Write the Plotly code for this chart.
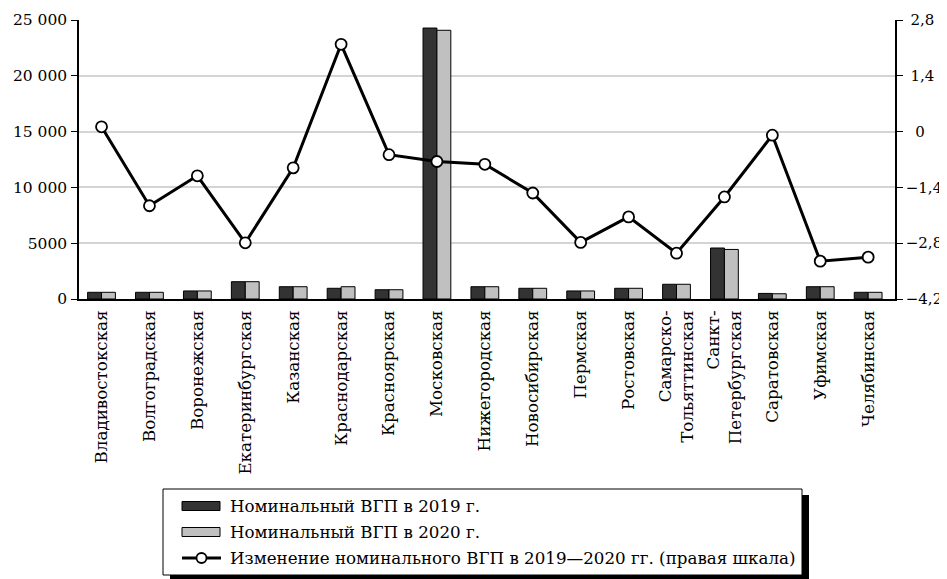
import plotly.graph_objects as go

regions = ["Владивостокская", "Волгоградская", "Воронежская", "Екатеринбургская",
           "Казанская", "Краснодарская", "Красноярская", "Московская",
           "Нижегородская", "Новосибирская", "Пермская", "Ростовская",
           "Самарско-<br>Тольяттинская", "Санкт-<br>Петербургская", "Саратовская",
           "Уфимская", "Челябинская"]
gdp_2019 = [600, 600, 720, 1550, 1100, 960, 830, 24280, 1100, 960, 720, 960,
            1320, 4570, 500, 1100, 600]
gdp_2020 = [600, 600, 720, 1550, 1100, 1100, 830, 24080, 1100, 960, 720, 960,
            1320, 4440, 470, 1100, 600]
change = [0.12, -1.86, -1.11, -2.79, -0.91, 2.19, -0.58, -0.75, -0.82, -1.54,
          -2.78, -2.14, -3.05, -1.64, -0.09, -3.25, -3.15]

left_tickvals = [0, 5000, 10000, 15000, 20000, 25000]
left_ticktext = ["0", "5000", "10 000", "15 000", "20 000", "25 000"]
right_tickvals = [-4.2, -2.8, -1.4, 0, 1.4, 2.8]
right_ticktext = ["−4,2", "−2,8", "−1,4", "\u00a0\u00a00", "\u00a01,4", "\u00a02,8"]

legend_labels = ["Номинальный ВГП в 2019 г.", "Номинальный ВГП в 2020 г.",
                 "Изменение номинального ВГП в 2019—2020 гг. (правая шкала)"]

FONT = "DejaVu Serif"
DARK = "#333333"
LIGHT = "#c0c0c0"

x = list(range(len(regions)))

fig = go.Figure()
fig.add_trace(go.Bar(x=x, y=gdp_2019, name=legend_labels[0], marker_color=DARK,
                     marker_line=dict(color="black", width=1), showlegend=False))
fig.add_trace(go.Bar(x=x, y=gdp_2020, name=legend_labels[1], marker_color=LIGHT,
                     marker_line=dict(color="black", width=1), showlegend=False))
fig.add_trace(go.Scatter(x=x, y=change, yaxis="y2", name=legend_labels[2],
                         mode="lines+markers", line=dict(color="black", width=3),
                         marker=dict(size=11, color="white",
                                     line=dict(color="black", width=1.8)),
                         showlegend=False))

# page body margin offset
OFF = 8
W, H = 947 - OFF, 579 - OFF
# target screen positions of plot area
SX0, SX1, SY0, SY1 = 79, 895, 20, 299
L = SX0 - OFF
T = SY0 - OFF
pw = SX1 - SX0
ph = SY1 - SY0
R = W - L - pw
B = H - T - ph


def px(sx):
    return (sx - SX0) / pw


def py(sy):
    return (SY1 - sy) / ph


shapes = []
annotations = []
# legend shadow and box
shapes.append(dict(type="rect", xref="paper", yref="paper", x0=px(170), x1=px(809),
                   y0=py(495), y1=py(580), fillcolor="black", line=dict(width=0),
                   layer="above"))
shapes.append(dict(type="rect", xref="paper", yref="paper", x0=px(163), x1=px(802),
                   y0=py(489), y1=py(575), fillcolor="white",
                   line=dict(color="black", width=1), layer="above"))
rows = [506, 532, 558]
shapes.append(dict(type="rect", xref="paper", yref="paper", x0=px(182), x1=px(220),
                   y0=py(rows[0] - 4.5), y1=py(rows[0] + 4.5), fillcolor=DARK,
                   line=dict(color="black", width=1), layer="above"))
shapes.append(dict(type="rect", xref="paper", yref="paper", x0=px(182), x1=px(220),
                   y0=py(rows[1] - 4.5), y1=py(rows[1] + 4.5), fillcolor=LIGHT,
                   line=dict(color="black", width=1), layer="above"))
shapes.append(dict(type="line", xref="paper", yref="paper", x0=px(182), x1=px(221),
                   y0=py(rows[2]), y1=py(rows[2]), line=dict(color="black", width=3),
                   layer="above"))
shapes.append(dict(type="circle", xref="paper", yref="paper", x0=px(196.5), x1=px(206.5),
                   y0=py(rows[2] - 5), y1=py(rows[2] + 5), fillcolor="white",
                   line=dict(color="black", width=1.8), layer="above"))
for r, lab in zip(rows, legend_labels):
    annotations.append(dict(xref="paper", yref="paper", x=px(228), y=py(r),
                            xanchor="left", yanchor="middle", text=lab,
                            showarrow=False, font=dict(family=FONT, size=16.7, color="black")))

fig.update_layout(
    width=W, height=H, autosize=False,
    margin=dict(l=L, r=R, t=T, b=B, pad=0, autoexpand=False),
    paper_bgcolor="white", plot_bgcolor="white",
    barmode="group", bargap=0.42, bargroupgap=0,
    font=dict(family=FONT, size=16, color="black"),
    xaxis=dict(tickmode="array", tickvals=x, ticktext=regions, tickangle=-90,
               range=[-0.47, 16.56], showline=True, linecolor="black", linewidth=1.5,
               ticks="", showgrid=False, zeroline=False, ticklabelstandoff=3,
               automargin=False, tickfont=dict(family=FONT, size=16.7)),
    yaxis=dict(range=[0, 25000], tickmode="array", tickvals=left_tickvals,
               ticktext=left_ticktext, showline=True, linecolor="black", linewidth=1.5,
               ticks="outside", ticklen=6, tickcolor="black", showgrid=True,
               gridcolor="#d4d4d4", gridwidth=1.5, zeroline=False, ticklabelstandoff=1,
               automargin=False, tickfont=dict(family=FONT, size=15.5)),
    yaxis2=dict(range=[-4.2, 2.8], overlaying="y", side="right", tickmode="array",
                tickvals=right_tickvals, ticktext=right_ticktext, showline=True,
                linecolor="black", linewidth=1.5, ticks="outside", ticklen=6,
                tickcolor="black", showgrid=False, zeroline=False, ticklabelstandoff=0,
                automargin=False, tickfont=dict(family=FONT, size=15)),
    shapes=shapes, annotations=annotations,
)

fig.write_html("out.html")
